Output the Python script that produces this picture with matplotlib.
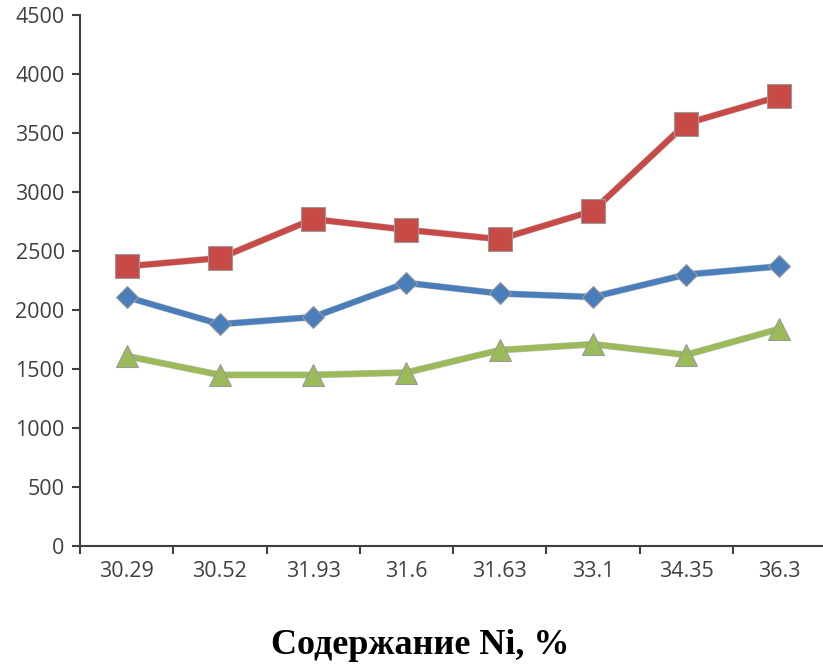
import numpy as np
import matplotlib.pyplot as plt
import matplotlib.patheffects as pe

# Data
categories = ["30.29", "30.52", "31.93", "31.6", "31.63", "33.1", "34.35", "36.3"]
red_vals = [2370, 2440, 2770, 2680, 2600, 2840, 3580, 3810]
blue_vals = [2110, 1880, 1940, 2230, 2140, 2110, 2300, 2370]
green_vals = [1610, 1450, 1450, 1470, 1660, 1710, 1620, 1840]
yticks = [0, 500, 1000, 1500, 2000, 2500, 3000, 3500, 4000, 4500]

fig = plt.figure(figsize=(8.23, 6.66), dpi=100)
ax = fig.add_axes([80/823, 120/666, 746/823, 531/666])

x = np.arange(len(categories))
edge = "#9a9a9a"
outline = [pe.Stroke(linewidth=5.0, foreground="#c4c4c4"), pe.Normal()]

series = [
    (blue_vals, "#4A7EBB", "D", 11),
    (red_vals, "#C84A47", "s", 17),
    (green_vals, "#9BBB59", "^", 16),
]
for vals, col, mk, size in series:
    # line with a faint grey rim, markers drawn on top without it
    ax.plot(x, vals, color=col, lw=4.2, zorder=3, path_effects=outline,
            solid_joinstyle="round")
    ax.plot(x, vals, ls="none", marker=mk, ms=size, mfc=col, mec=edge,
            mew=0.8, zorder=4)

ax.set_xlim(-0.5, len(categories) - 0.5)
ax.set_ylim(0, 4500)
ax.set_yticks(yticks)
ax.set_yticklabels([str(v) for v in yticks], family="Open Sans")

# category labels in the middle, ticks on the boundaries
ax.set_xticks(x)
ax.set_xticklabels(categories, family="Open Sans")
ax.set_xticks(np.arange(len(categories) + 1) - 0.5, minor=True)
ax.tick_params(axis="x", which="major", length=0, pad=11, labelsize=15.5, colors="#404040")
ax.tick_params(axis="x", which="minor", length=6, width=1.5, color="#404040", direction="out")
ax.tick_params(axis="y", length=6, width=1.5, color="#404040", pad=5, labelsize=15.5,
               labelcolor="#404040")

for s in ["top", "right"]:
    ax.spines[s].set_visible(False)
for s in ["left", "bottom"]:
    ax.spines[s].set_color("#404040")
    ax.spines[s].set_linewidth(1.5)

fig.text(420/823, 1 - 645/666, "Содержание Ni, %", ha="center", va="center",
         fontsize=26, fontweight="bold", family="Liberation Serif")

fig.savefig("out.png", dpi=100)
